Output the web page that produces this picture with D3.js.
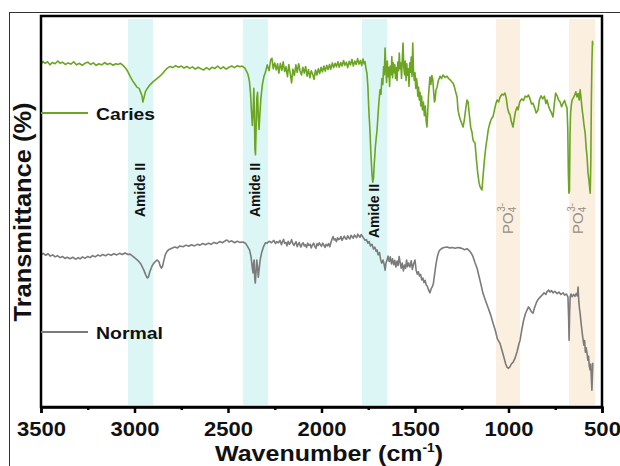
<!DOCTYPE html>
<html>
<head>
<meta charset="utf-8">
<script src="https://cdn.jsdelivr.net/npm/d3@7"></script>
<style>
  body { margin: 0; background: #fff; }
  svg { display: block; font-family: "Liberation Sans", Arial, sans-serif; }
  .tick text { font-weight: bold; font-size: 20px; }
</style>
</head>
<body>
<svg id="chart" width="620" height="466"></svg>
<script>
// x ticks (cm-1)
var majorTicks = [3500, 3000, 2500, 2000, 1500, 1000, 500];
var minorTicks = [3250, 2750, 2250, 1750, 1250, 750];

// shaded bands: [from, to, kind, label]
var bands = [
	[3035, 2901, "amide", "Amide II"],
	[2420, 2286, "amide", "Amide II"],
	[1784, 1650, "amide", "Amide II"],
	[1067, 939, "po4", "PO4"],
	[676, 537, "po4", "PO4"]
];

// [wavenumber, transmittance]
var caries = [
	[3500, 87.6], [3490, 88.4], [3478, 87.9], [3465, 88.3], [3452, 87.5], [3440, 88.1], [3425, 87.8], [3410, 88.5],
	[3398, 87.9], [3385, 88.2], [3370, 87.6], [3355, 88.0], [3340, 87.7], [3325, 88.3], [3310, 87.5], [3295, 87.9],
	[3280, 87.4], [3265, 87.9], [3250, 88.2], [3235, 87.6], [3220, 88.0], [3205, 87.4], [3190, 87.8], [3175, 87.5],
	[3160, 88.1], [3145, 87.6], [3130, 87.9], [3115, 87.4], [3100, 87.8], [3088, 87.6], [3075, 87.9], [3060, 87.3],
	[3045, 86.5], [3035, 85.7], [3024, 84.6], [3010, 83.4], [2998, 82.6], [2987, 81.8], [2975, 81.5], [2968, 80.6],
	[2960, 79.6], [2955, 78.0], [2950, 79.0], [2942, 80.6], [2930, 81.6], [2917, 82.4], [2900, 83.2], [2880, 84.0],
	[2864, 84.6], [2850, 85.3], [2838, 86.0], [2826, 86.6], [2810, 87.1], [2795, 86.8], [2780, 87.3], [2765, 86.9],
	[2750, 87.2], [2735, 86.7], [2720, 87.1], [2705, 86.6], [2690, 87.0], [2675, 86.4], [2660, 86.9], [2645, 86.5],
	[2630, 86.2], [2615, 86.8], [2600, 86.3], [2585, 86.9], [2570, 86.6], [2555, 87.2], [2540, 86.5], [2525, 87.0],
	[2510, 86.4], [2495, 86.9], [2480, 87.2], [2465, 86.8], [2450, 87.3], [2436, 87.0], [2425, 87.2], [2410, 86.7],
	[2400, 85.8], [2393, 85.0], [2386, 83.5], [2380, 80.5], [2375, 76.0], [2370, 72.0], [2366, 75.0], [2362, 81.5],
	[2359, 76.0], [2356, 66.0], [2353, 64.5], [2350, 70.5], [2346, 79.0], [2342, 80.5], [2338, 74.0], [2334, 71.0],
	[2330, 74.5], [2324, 79.0], [2316, 82.5], [2308, 84.5], [2300, 85.6], [2290, 87.5], [2280, 86.0], [2272, 88.8],
	[2265, 89.2], [2258, 86.5], [2250, 88.0], [2242, 86.2], [2235, 87.8], [2228, 85.4], [2220, 87.9], [2212, 86.1],
	[2205, 88.3], [2197, 85.8], [2190, 87.0], [2182, 84.5], [2175, 87.6], [2167, 85.2], [2160, 82.9], [2153, 86.4],
	[2145, 84.8], [2137, 87.5], [2130, 85.6], [2122, 87.8], [2115, 86.0], [2107, 84.9], [2100, 86.9], [2092, 85.4],
	[2085, 87.1], [2077, 84.6], [2070, 86.3], [2062, 84.2], [2055, 86.0], [2047, 85.1], [2040, 83.8], [2032, 86.2],
	[2025, 84.9], [2017, 86.5], [2010, 85.3], [2002, 86.9], [1995, 85.7], [1987, 87.2], [1980, 85.9], [1972, 87.4],
	[1965, 86.3], [1957, 87.6], [1950, 86.4], [1942, 88.0], [1935, 86.8], [1927, 87.9], [1920, 87.0], [1912, 88.3],
	[1905, 86.9], [1897, 88.1], [1890, 87.2], [1882, 88.6], [1875, 87.4], [1867, 88.2], [1860, 86.8], [1852, 88.4],
	[1845, 87.5], [1837, 88.9], [1830, 87.2], [1822, 88.5], [1815, 87.6], [1807, 89.1], [1800, 87.7], [1792, 88.6],
	[1785, 87.3], [1778, 89.0], [1772, 87.8], [1767, 88.3], [1762, 86.5], [1757, 85.4], [1752, 82.0], [1747, 76.0],
	[1741, 70.8], [1736, 65.0], [1730, 59.5], [1726, 57.5], [1722, 58.5], [1718, 62.0], [1712, 66.5], [1707, 69.0],
	[1703, 70.8], [1698, 74.5], [1693, 78.0], [1687, 81.1], [1682, 80.0], [1677, 84.0], [1672, 82.5], [1668, 87.0],
	[1664, 85.0], [1660, 91.8], [1656, 86.5], [1652, 83.0], [1648, 88.5], [1644, 84.5], [1640, 86.9], [1636, 82.0],
	[1632, 87.2], [1628, 85.0], [1624, 89.6], [1620, 84.2], [1616, 88.0], [1612, 85.5], [1608, 87.5], [1604, 84.0],
	[1600, 86.8], [1596, 83.5], [1592, 88.2], [1588, 86.0], [1584, 90.5], [1580, 86.5], [1576, 88.0], [1572, 84.0],
	[1568, 89.0], [1564, 93.1], [1560, 87.0], [1556, 85.0], [1552, 88.5], [1548, 83.5], [1544, 87.8], [1540, 84.8],
	[1536, 86.5], [1532, 82.0], [1528, 88.0], [1524, 85.6], [1520, 89.5], [1516, 84.5], [1512, 93.1], [1508, 86.0],
	[1504, 83.5], [1500, 85.5], [1496, 81.5], [1492, 84.0], [1489, 82.9], [1485, 79.5], [1481, 81.8], [1477, 78.5],
	[1473, 80.5], [1469, 77.0], [1465, 79.5], [1460, 76.0], [1455, 78.0], [1450, 74.5], [1445, 77.0], [1440, 73.0],
	[1436, 71.6], [1432, 75.5], [1428, 79.5], [1424, 82.0], [1420, 84.4], [1415, 82.5], [1410, 84.8], [1405, 83.8],
	[1400, 80.5], [1396, 78.0], [1393, 78.5], [1388, 81.0], [1382, 81.8], [1375, 83.5], [1366, 84.6], [1358, 84.0],
	[1350, 84.9], [1340, 84.3], [1329, 84.6], [1320, 84.0], [1310, 83.6], [1303, 83.1], [1297, 82.9], [1290, 82.0],
	[1282, 80.5], [1275, 79.3], [1270, 76.0], [1265, 74.8], [1258, 73.5], [1250, 72.5], [1243, 71.6], [1236, 73.5],
	[1228, 76.5], [1222, 78.5], [1216, 78.0], [1210, 75.0], [1202, 71.5], [1195, 70.2], [1190, 68.3], [1184, 67.8],
	[1179, 67.5], [1172, 63.5], [1165, 60.0], [1158, 57.5], [1152, 56.3], [1146, 55.8], [1142, 55.5], [1137, 58.5],
	[1131, 62.0], [1126, 64.5], [1120, 67.0], [1115, 68.5], [1108, 71.0], [1100, 72.5], [1094, 73.4], [1088, 74.0],
	[1083, 74.2], [1075, 76.0], [1068, 77.5], [1061, 78.5], [1053, 78.0], [1045, 79.3], [1035, 80.0], [1027, 79.8],
	[1019, 80.3], [1012, 79.0], [1005, 76.5], [998, 75.2], [992, 74.8], [985, 73.0], [976, 71.6], [970, 73.5],
	[963, 75.5], [954, 76.7], [949, 76.0], [940, 78.0], [930, 78.8], [920, 78.4], [911, 79.5], [901, 79.3],
	[893, 79.8], [885, 78.8], [877, 77.5], [869, 77.7], [860, 76.5], [852, 75.2], [842, 76.0], [835, 78.5],
	[826, 79.6], [817, 78.8], [808, 79.5], [800, 77.6], [794, 78.5], [786, 77.0], [778, 76.0], [770, 75.2],
	[762, 74.2], [755, 77.5], [748, 80.3], [740, 79.6], [732, 78.5], [724, 78.0], [716, 76.8], [708, 77.7],
	[700, 78.4], [693, 77.2], [687, 76.5], [683, 71.0], [680, 60.0], [677, 54.7], [674, 55.2], [671, 70.0],
	[668, 75.2], [664, 77.2], [660, 78.5], [654, 79.0], [646, 79.8], [640, 80.6], [634, 79.3], [628, 80.2],
	[622, 78.5], [617, 81.1], [612, 79.0], [606, 76.0], [601, 74.2], [596, 72.0], [590, 70.0], [585, 66.5],
	[580, 64.0], [575, 60.0], [570, 58.0], [566, 56.0], [563, 54.7], [560, 62.0], [557, 78.0], [554, 88.0],
	[551, 93.5], [549, 92.5]
];

var normal = [
	[3500, 39.0], [3488, 39.3], [3475, 38.8], [3462, 39.2], [3450, 38.6], [3437, 38.9], [3425, 38.4], [3412, 38.7],
	[3398, 38.2], [3385, 38.5], [3372, 38.0], [3360, 38.3], [3345, 37.9], [3330, 38.3], [3315, 37.8], [3300, 38.2],
	[3291, 37.9], [3278, 38.4], [3265, 38.0], [3250, 38.5], [3237, 38.2], [3225, 38.7], [3210, 38.4], [3195, 38.9],
	[3184, 38.6], [3170, 39.0], [3155, 38.7], [3140, 39.1], [3125, 38.8], [3110, 39.2], [3095, 38.9], [3080, 39.3],
	[3065, 39.0], [3050, 39.4], [3035, 39.0], [3024, 39.1], [3010, 38.6], [2995, 38.0], [2980, 37.4], [2965, 36.5],
	[2950, 35.0], [2940, 33.8], [2932, 33.0], [2926, 33.2], [2918, 34.6], [2905, 36.2], [2893, 37.0], [2880, 37.6],
	[2870, 37.2], [2862, 36.0], [2856, 35.5], [2850, 36.0], [2843, 37.5], [2835, 39.0], [2826, 39.8], [2815, 40.3],
	[2800, 40.6], [2785, 40.9], [2770, 40.7], [2757, 41.2], [2740, 41.0], [2725, 41.4], [2710, 41.1], [2695, 41.5],
	[2680, 41.2], [2665, 41.6], [2650, 41.4], [2635, 41.8], [2620, 41.5], [2605, 41.9], [2590, 41.6], [2575, 42.1],
	[2560, 41.8], [2545, 42.3], [2530, 42.0], [2515, 42.5], [2505, 42.7], [2495, 42.2], [2480, 42.5], [2465, 42.0],
	[2450, 42.4], [2436, 42.1], [2420, 42.2], [2405, 41.8], [2395, 41.0], [2385, 40.2], [2377, 38.5], [2370, 35.5],
	[2366, 34.3], [2363, 37.0], [2360, 37.6], [2357, 33.0], [2354, 31.7], [2350, 34.5], [2346, 37.6], [2342, 35.8],
	[2338, 33.2], [2334, 35.0], [2328, 37.6], [2320, 39.5], [2310, 41.0], [2300, 42.0], [2291, 41.9], [2280, 42.4],
	[2268, 42.0], [2255, 42.6], [2246, 41.8], [2240, 42.3], [2231, 42.0], [2222, 42.6], [2214, 41.5], [2210, 42.2],
	[2203, 42.9], [2198, 41.9], [2190, 42.1], [2185, 41.2], [2178, 42.4], [2172, 41.6], [2166, 42.0], [2160, 42.8],
	[2154, 41.9], [2148, 41.3], [2142, 41.8], [2136, 42.3], [2130, 41.0], [2125, 41.6], [2119, 42.1], [2115, 41.4],
	[2110, 40.9], [2104, 41.7], [2098, 42.0], [2092, 41.2], [2086, 41.5], [2080, 40.8], [2074, 41.9], [2068, 41.3],
	[2061, 41.6], [2055, 40.7], [2049, 41.4], [2042, 41.9], [2036, 41.1], [2030, 40.6], [2024, 41.8], [2018, 41.3],
	[2012, 42.0], [2006, 41.5], [2000, 41.1], [1993, 41.9], [1987, 41.4], [1981, 40.8], [1975, 41.6], [1969, 41.2],
	[1962, 41.8], [1956, 41.0], [1950, 42.0], [1944, 42.9], [1938, 43.6], [1932, 42.7], [1926, 43.0], [1920, 42.3],
	[1914, 43.3], [1908, 42.8], [1902, 43.0], [1896, 43.6], [1890, 42.6], [1884, 43.2], [1878, 43.7], [1872, 43.1],
	[1866, 42.9], [1860, 43.8], [1854, 43.3], [1848, 43.0], [1842, 43.9], [1836, 43.5], [1830, 43.2], [1824, 44.0],
	[1818, 43.6], [1812, 43.3], [1806, 44.2], [1800, 43.8], [1794, 43.4], [1788, 44.1], [1783, 43.8], [1775, 43.2],
	[1767, 42.6], [1760, 42.8], [1752, 41.9], [1745, 42.3], [1738, 41.2], [1730, 41.6], [1722, 40.4], [1715, 40.9],
	[1708, 39.8], [1703, 40.2], [1697, 38.9], [1690, 39.5], [1684, 37.8], [1678, 36.8], [1671, 37.6], [1665, 36.5],
	[1660, 35.0], [1655, 36.8], [1650, 37.5], [1644, 38.6], [1638, 37.2], [1632, 38.4], [1626, 36.6], [1620, 37.9],
	[1614, 36.4], [1608, 37.5], [1602, 35.8], [1596, 37.3], [1590, 36.2], [1585, 38.5], [1580, 37.1], [1574, 35.5],
	[1568, 36.8], [1562, 34.8], [1556, 36.3], [1550, 35.5], [1545, 37.6], [1540, 35.9], [1534, 36.8], [1527, 35.8],
	[1520, 37.4], [1514, 35.2], [1508, 36.5], [1500, 37.6], [1494, 35.0], [1488, 34.0], [1482, 34.6], [1476, 33.5],
	[1470, 33.9], [1464, 32.5], [1458, 33.0], [1452, 31.8], [1446, 32.4], [1440, 31.2], [1434, 30.9], [1428, 30.0],
	[1420, 29.2], [1414, 30.2], [1408, 30.7], [1402, 31.5], [1395, 34.0], [1388, 36.5], [1380, 38.5], [1372, 39.8],
	[1366, 40.2], [1355, 40.6], [1345, 40.8], [1329, 40.9], [1315, 40.7], [1300, 40.8], [1285, 40.6], [1270, 40.8],
	[1259, 40.7], [1245, 40.5], [1235, 40.2], [1222, 40.5], [1210, 40.0], [1200, 39.4], [1190, 38.5], [1180, 37.0],
	[1168, 35.5], [1158, 33.5], [1148, 31.5], [1136, 29.0], [1125, 27.5], [1110, 25.5], [1095, 23.5], [1083, 21.5],
	[1070, 19.5], [1060, 17.5], [1045, 16.2], [1035, 14.5], [1025, 12.8], [1015, 11.0], [1008, 10.2], [1000, 9.9],
	[992, 10.3], [985, 11.0], [976, 11.4], [965, 12.5], [954, 14.2], [945, 16.0], [938, 17.1], [930, 19.5],
	[920, 22.0], [910, 23.8], [901, 24.8], [893, 25.6], [885, 25.0], [877, 24.3], [869, 24.0], [860, 25.5],
	[850, 26.8], [842, 27.5], [831, 28.1], [820, 28.6], [810, 29.2], [800, 28.8], [794, 29.5], [785, 29.9],
	[778, 29.4], [770, 29.8], [762, 29.2], [752, 29.6], [740, 29.0], [730, 29.4], [720, 28.8], [708, 29.2],
	[700, 28.6], [690, 28.9], [682, 28.1], [678, 22.0], [676, 17.1], [673, 24.5], [670, 28.2], [666, 28.9],
	[660, 28.2], [652, 28.8], [645, 28.3], [638, 29.0], [632, 28.4], [628, 30.7], [624, 27.0], [620, 25.0],
	[617, 24.0], [612, 21.5], [606, 19.0], [601, 17.1], [597, 15.8], [593, 17.0], [589, 14.0], [585, 15.2],
	[580, 13.8], [576, 12.0], [572, 13.0], [568, 10.5], [564, 9.5], [560, 11.0], [557, 7.5], [554, 4.3],
	[551, 8.5], [549, 11.3]
];

var series = [
	{ name: "Caries", data: caries, color: "#6ba522", legendY: 113 },
	{ name: "Normal", data: normal, color: "#7b7b7b", legendY: 332 }
];

var margin = { left: 41, top: 16, right: 18, bottom: 59 };
var width = 620 - margin.left - margin.right;
var height = 466 - margin.top - margin.bottom;

var svg = d3.select("#chart");

// thin outer frame of the figure
svg.append("rect").attr("x", 9.5).attr("y", 12.5).attr("width", 620).attr("height", 470)
	.attr("fill", "none").attr("stroke", "#333").attr("stroke-width", 1);

var g = svg.append("g").attr("transform", "translate(" + margin.left + "," + margin.top + ")");

var x = d3.scaleLinear().domain([3500, 500]).range([0, width]);
var y = d3.scaleLinear().domain([0, 100]).range([height, 0]);

// bands
g.selectAll("rect.band").data(bands).enter().append("rect")
	.attr("class", "band")
	.attr("x", function(d) { return x(d[0]); })
	.attr("width", function(d) { return x(d[1]) - x(d[0]); })
	.attr("y", 3).attr("height", height - 5)
	.attr("fill", function(d) { return d[2] === "amide" ? "#dcf6f5" : "#fbefe0"; });

// spectra
var line = d3.line()
	.x(function(d) { return x(d[0]); })
	.y(function(d) { return y(d[1]); });

g.selectAll("path.spectrum").data(series).enter().append("path")
	.attr("class", "spectrum")
	.attr("d", function(d) { return line(d.data); })
	.attr("fill", "none")
	.attr("stroke", function(d) { return d.color; })
	.attr("stroke-width", 1.6)
	.attr("stroke-linejoin", "round");

// legend lines sit on the y axis
var legend = svg.selectAll("g.legend").data(series).enter().append("g")
	.attr("class", "legend")
	.attr("transform", function(d) { return "translate(" + margin.left + "," + d.legendY + ")"; });
legend.append("line").attr("x1", 0).attr("x2", 47).attr("y1", 0).attr("y2", 0)
	.attr("stroke", function(d) { return d.color; }).attr("stroke-width", 2);
legend.append("text").attr("x", 55).attr("y", 6.5)
	.attr("font-size", 17).attr("font-weight", "bold").attr("fill", "#111")
	.attr("textLength", function(d) { return d.name === "Caries" ? 59 : 67; })
	.attr("lengthAdjust", "spacingAndGlyphs")
	.text(function(d) { return d.name; });

// band labels (rotated)
var amideLabelY = [190, 190, 211];
var amideLabels = bands.filter(function(d) { return d[2] === "amide"; });
g.selectAll("text.amide").data(amideLabels).enter().append("text")
	.attr("class", "amide")
	.attr("transform", function(d, i) {
		return "translate(" + (x((d[0] + d[1]) / 2) + 5) + "," + (amideLabelY[i] - margin.top) + ") rotate(-90)";
	})
	.attr("text-anchor", "middle").attr("font-size", 14).attr("font-weight", "bold").attr("fill", "#111")
	.attr("textLength", 54).attr("lengthAdjust", "spacingAndGlyphs")
	.text(function(d) { return d[3]; });

var po4Labels = bands.filter(function(d) { return d[2] === "po4"; });
var po4Text = g.selectAll("text.po4").data(po4Labels).enter().append("text")
	.attr("class", "po4")
	.attr("transform", function(d, i) {
		var cx = i === 0 ? x((d[0] + d[1]) / 2) : x((d[0] + d[1]) / 2) - 4;
		return "translate(" + (cx + 5) + "," + (234 - margin.top) + ") rotate(-90)";
	})
	.attr("font-size", 15).attr("fill", "#968f85");
po4Text.append("tspan").text("PO");
po4Text.append("tspan").attr("font-size", 10).attr("dy", 3).text("4");
po4Text.append("tspan").attr("font-size", 10).attr("dx", -5).attr("dy", -11).text("3-");

// frame
g.append("rect").attr("x", 0).attr("y", 0).attr("width", width).attr("height", height)
	.attr("fill", "none").attr("stroke", "#000").attr("stroke-width", 2.5);

// x axis
g.append("g").attr("transform", "translate(0," + height + ")")
	.call(d3.axisBottom(x).tickValues(minorTicks).tickSize(3).tickFormat(""))
	.call(function(a) { a.select(".domain").remove(); a.selectAll("line").attr("stroke-width", 2.5); });

var xAxis = g.append("g").attr("transform", "translate(0," + height + ")")
	.call(d3.axisBottom(x).tickValues(majorTicks).tickSize(6).tickPadding(9).tickFormat(d3.format("d")));
xAxis.select(".domain").attr("stroke-width", 2.5);
xAxis.selectAll("line").attr("stroke-width", 2.5);
xAxis.selectAll("text").attr("fill", "#111")
	.attr("textLength", function(d) { return d >= 1000 ? 49 : 37; })
	.attr("lengthAdjust", "spacingAndGlyphs");

// axis titles
var xTitle = svg.append("text").attr("x", 329).attr("y", 461)
	.attr("text-anchor", "middle").attr("font-size", 22).attr("font-weight", "bold").attr("fill", "#111")
	.attr("textLength", 228).attr("lengthAdjust", "spacingAndGlyphs");
xTitle.append("tspan").text("Wavenumber (cm");
xTitle.append("tspan").attr("font-size", 12).attr("dy", -9).text("-1");
xTitle.append("tspan").attr("dy", 9).text(")");

svg.append("text").attr("transform", "translate(31,212) rotate(-90)")
	.attr("text-anchor", "middle").attr("font-size", 24).attr("font-weight", "bold").attr("fill", "#111")
	.attr("textLength", 219).attr("lengthAdjust", "spacingAndGlyphs")
	.text("Transmittance (%)");
</script>
</body>
</html>
